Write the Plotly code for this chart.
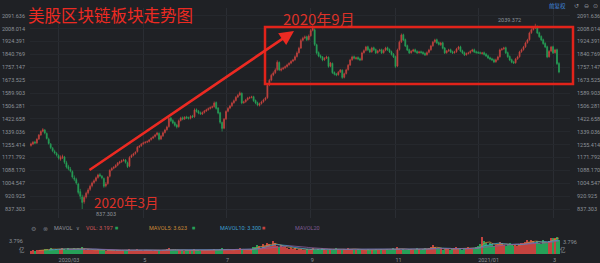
import plotly.graph_objects as go
import pandas as pd

# ---------------- data ----------------
start_date = "2020-02-10"
end_date = "2021-03-04"
holidays = ["2020-02-17", "2020-04-10", "2020-05-25", "2020-07-03", "2020-09-07",
            "2020-11-26", "2020-12-25", "2021-01-01", "2021-01-18", "2021-02-15"]

open_vals = [
    1250, 1259, 1272, 1266, 1292, 1318, 1342, 1350, 1328, 1290,
    1258, 1232, 1210, 1198, 1185, 1160, 1170, 1175, 1138, 1112,
    1095, 1080, 1040, 1028, 1000, 950, 915, 885, 915, 942,
    965, 988, 1010, 1022, 1042, 1060, 1050, 1035, 988, 1002,
    1050, 1090, 1102, 1110, 1122, 1136, 1144, 1152, 1156, 1138,
    1115, 1175, 1186, 1198, 1210, 1240, 1248, 1260, 1268, 1272,
    1276, 1288, 1298, 1308, 1320, 1328, 1292, 1312, 1334, 1352,
    1372, 1428, 1412, 1398, 1382, 1372, 1412, 1430, 1422, 1435,
    1430, 1426, 1440, 1436, 1482, 1472, 1462, 1454, 1464, 1474,
    1482, 1490, 1497, 1502, 1528, 1492, 1462, 1398, 1362, 1422,
    1472, 1492, 1507, 1527, 1542, 1564, 1577, 1588, 1527, 1534,
    1547, 1558, 1562, 1566, 1542, 1527, 1510, 1522, 1534, 1547,
    1560, 1642, 1674, 1707, 1722, 1742, 1788, 1738, 1747, 1754,
    1762, 1774, 1784, 1797, 1806, 1827, 1852, 1882, 1932, 1947,
    1955, 1937, 1962, 1997, 2000, 1903, 1852, 1832, 1824, 1806,
    1817, 1822, 1764, 1782, 1724, 1714, 1709, 1727, 1737, 1692,
    1717, 1742, 1772, 1806, 1826, 1813, 1820, 1812, 1806, 1852,
    1867, 1890, 1872, 1858, 1884, 1872, 1852, 1864, 1871, 1852,
    1868, 1884, 1872, 1858, 1842, 1826, 1765, 1872, 1922, 1968,
    1936, 1897, 1871, 1852, 1862, 1871, 1860, 1852, 1858, 1854,
    1847, 1839, 1854, 1871, 1897, 1922, 1936, 1917, 1903, 1916,
    1882, 1852, 1864, 1871, 1858, 1852, 1858, 1877, 1890, 1864,
    1852, 1839, 1847, 1852, 1862, 1871, 1858, 1854, 1852, 1846,
    1852, 1842, 1832, 1819, 1812, 1806, 1793, 1807, 1826, 1871,
    1877, 1884, 1852, 1827, 1806, 1792, 1787, 1812, 1826, 1858,
    1872, 1890, 1917, 1936, 1981, 2002, 2013, 2020, 1981, 1957,
    1936, 1912, 1890, 1826, 1862, 1890, 1852, 1871, 1782,
]
high_vals = [
    1268, 1278, 1280, 1296, 1324, 1348, 1362, 1356, 1334, 1300,
    1266, 1240, 1222, 1208, 1192, 1185, 1190, 1182, 1150, 1124,
    1110, 1088, 1055, 1040, 1008, 968, 930, 925, 950, 972,
    995, 1015, 1030, 1048, 1066, 1070, 1058, 1042, 1012, 1052,
    1095, 1108, 1115, 1128, 1142, 1150, 1158, 1163, 1162, 1145,
    1180, 1192, 1202, 1212, 1246, 1252, 1265, 1274, 1278, 1282,
    1292, 1303, 1313, 1325, 1338, 1335, 1318, 1340, 1358, 1378,
    1435, 1436, 1420, 1405, 1390, 1418, 1436, 1438, 1440, 1442,
    1437, 1446, 1448, 1490, 1490, 1480, 1470, 1470, 1480, 1488,
    1496, 1503, 1508, 1535, 1535, 1498, 1468, 1405, 1428, 1478,
    1498, 1513, 1533, 1548, 1570, 1584, 1600, 1594, 1540, 1552,
    1565, 1568, 1572, 1572, 1548, 1534, 1528, 1540, 1553, 1565,
    1650, 1682, 1715, 1730, 1750, 1802, 1795, 1755, 1760, 1768,
    1780, 1790, 1803, 1812, 1834, 1860, 1890, 1942, 1955, 1963,
    1962, 1970, 2005, 2030, 2010, 1910, 1860, 1840, 1830, 1822,
    1832, 1828, 1792, 1788, 1730, 1720, 1732, 1746, 1744, 1722,
    1748, 1778, 1812, 1832, 1833, 1826, 1828, 1820, 1858, 1873,
    1896, 1897, 1879, 1890, 1891, 1879, 1870, 1877, 1878, 1874,
    1890, 1891, 1879, 1865, 1849, 1832, 1878, 1930, 1976, 1975,
    1943, 1904, 1878, 1868, 1877, 1878, 1867, 1864, 1865, 1861,
    1854, 1860, 1877, 1903, 1928, 1942, 1943, 1924, 1922, 1923,
    1889, 1870, 1877, 1878, 1865, 1864, 1883, 1896, 1897, 1871,
    1859, 1853, 1858, 1868, 1877, 1878, 1865, 1861, 1859, 1857,
    1859, 1849, 1839, 1826, 1819, 1813, 1813, 1832, 1878, 1883,
    1890, 1891, 1859, 1834, 1813, 1799, 1818, 1832, 1864, 1878,
    1896, 1923, 1942, 1988, 2010, 2020, 2039.372, 2028, 1988, 1964,
    1943, 1919, 1897, 1868, 1896, 1897, 1877, 1878, 1790,
]
low_vals = [
    1242, 1252, 1258, 1260, 1285, 1312, 1335, 1322, 1288, 1255,
    1226, 1206, 1192, 1178, 1158, 1150, 1162, 1130, 1100, 1088,
    1075, 1035, 1018, 995, 932, 900, 837.303, 872, 905, 932,
    955, 978, 1000, 1014, 1034, 1044, 1030, 975, 978, 995,
    1042, 1083, 1095, 1103, 1115, 1128, 1137, 1145, 1132, 1103,
    1108, 1168, 1179, 1190, 1203, 1233, 1241, 1253, 1261, 1265,
    1269, 1281, 1291, 1301, 1313, 1282, 1285, 1305, 1327, 1345,
    1365, 1402, 1388, 1372, 1360, 1365, 1405, 1413, 1415, 1421,
    1418, 1419, 1427, 1429, 1463, 1452, 1448, 1447, 1457, 1467,
    1475, 1483, 1490, 1495, 1482, 1452, 1390, 1340, 1355, 1415,
    1465, 1485, 1500, 1520, 1535, 1557, 1570, 1517, 1520, 1527,
    1540, 1551, 1555, 1532, 1517, 1504, 1503, 1515, 1527, 1540,
    1552, 1634, 1666, 1699, 1714, 1734, 1732, 1730, 1740, 1747,
    1755, 1767, 1777, 1790, 1799, 1820, 1845, 1875, 1925, 1940,
    1927, 1930, 1955, 1990, 1895, 1840, 1822, 1814, 1796, 1799,
    1810, 1754, 1757, 1714, 1704, 1699, 1702, 1720, 1682, 1685,
    1710, 1735, 1765, 1799, 1808, 1806, 1803, 1797, 1799, 1845,
    1860, 1863, 1849, 1851, 1863, 1843, 1845, 1857, 1843, 1845,
    1861, 1863, 1849, 1833, 1817, 1752, 1758, 1865, 1915, 1927,
    1888, 1862, 1843, 1845, 1855, 1851, 1843, 1845, 1845, 1838,
    1830, 1832, 1847, 1864, 1890, 1915, 1908, 1898, 1896, 1873,
    1843, 1845, 1857, 1849, 1843, 1845, 1851, 1870, 1855, 1843,
    1830, 1832, 1840, 1845, 1855, 1849, 1845, 1843, 1841, 1839,
    1833, 1823, 1810, 1803, 1797, 1784, 1786, 1800, 1819, 1864,
    1870, 1843, 1818, 1797, 1783, 1778, 1780, 1805, 1819, 1851,
    1865, 1883, 1910, 1929, 1974, 1995, 2006, 1972, 1948, 1927,
    1903, 1881, 1816, 1819, 1855, 1843, 1845, 1772, 1718,
]
close_vals = [
    1259, 1270, 1265, 1290, 1317, 1340, 1352, 1330, 1295, 1262,
    1235, 1215, 1201, 1188, 1168, 1172, 1178, 1140, 1110, 1098,
    1085, 1045, 1030, 1006, 945, 920, 880, 912, 940, 961,
    985, 1006, 1020, 1040, 1058, 1052, 1040, 985, 1000, 1045,
    1088, 1100, 1108, 1120, 1135, 1142, 1150, 1155, 1140, 1112,
    1172, 1185, 1195, 1205, 1238, 1245, 1258, 1266, 1270, 1274,
    1285, 1296, 1305, 1318, 1330, 1290, 1310, 1332, 1350, 1369,
    1425, 1410, 1395, 1380, 1369, 1410, 1428, 1420, 1432, 1428,
    1425, 1438, 1434, 1480, 1470, 1460, 1455, 1462, 1472, 1480,
    1488, 1495, 1500, 1525, 1490, 1460, 1400, 1360, 1420, 1470,
    1490, 1505, 1525, 1540, 1562, 1575, 1590, 1525, 1532, 1545,
    1557, 1560, 1564, 1540, 1525, 1512, 1520, 1532, 1545, 1557,
    1640, 1672, 1705, 1720, 1739, 1790, 1740, 1745, 1752, 1760,
    1772, 1782, 1795, 1804, 1825, 1850, 1880, 1930, 1945, 1953,
    1935, 1960, 1995, 2010, 1905, 1850, 1830, 1822, 1804, 1815,
    1824, 1762, 1785, 1722, 1712, 1707, 1725, 1739, 1690, 1715,
    1740, 1770, 1804, 1824, 1815, 1818, 1810, 1804, 1850, 1865,
    1888, 1870, 1856, 1882, 1870, 1850, 1862, 1869, 1850, 1866,
    1882, 1870, 1856, 1840, 1824, 1762, 1869, 1920, 1966, 1934,
    1895, 1869, 1850, 1860, 1869, 1858, 1850, 1856, 1852, 1845,
    1837, 1852, 1869, 1895, 1920, 1934, 1915, 1905, 1914, 1880,
    1850, 1862, 1869, 1856, 1850, 1856, 1875, 1888, 1862, 1850,
    1837, 1845, 1850, 1860, 1869, 1856, 1852, 1850, 1848, 1850,
    1840, 1830, 1817, 1810, 1804, 1791, 1805, 1824, 1869, 1875,
    1882, 1850, 1825, 1804, 1790, 1785, 1810, 1824, 1856, 1870,
    1888, 1915, 1934, 1979, 2000, 2011, 2018, 1979, 1955, 1934,
    1910, 1888, 1824, 1860, 1888, 1850, 1869, 1780, 1726,
]
volume_vals = [  # 亿
    0.7, 0.8, 0.6, 0.9, 1.0, 0.8, 0.9, 1.1, 1.2, 1.0,
    1.3, 1.2, 0.9, 1.1, 1.0, 1.2, 1.3, 1.1, 1.0, 1.4,
    1.2, 1.1, 1.3, 1.2, 1.4, 1.1, 1.5, 1.2, 1.0, 1.1,
    0.9, 1.0, 0.8, 0.9, 1.1, 0.8, 0.9, 1.0, 0.7, 0.8,
    1.0, 0.9, 0.8, 0.7, 0.9, 0.8, 1.0, 0.9, 0.7, 0.8,
    1.1, 0.9, 0.8, 1.0, 1.2, 0.9, 0.8, 0.7, 0.9, 1.0,
    0.8, 0.9, 0.7, 1.0, 0.9, 0.8, 0.7, 0.9, 1.0, 1.1,
    1.3, 0.9, 0.8, 1.0, 0.9, 0.8, 1.0, 0.9, 0.7, 0.8,
    0.9, 1.0, 0.8, 1.2, 0.9, 0.8, 0.7, 0.8, 0.9, 1.0,
    0.9, 0.8, 1.0, 1.2, 0.9, 1.0, 1.1, 1.4, 1.0, 0.9,
    0.8, 1.0, 0.9, 1.1, 1.2, 1.0, 1.3, 0.9, 0.8, 1.0,
    0.9, 1.0, 1.1, 1.6, 1.5, 2.1, 1.8, 1.4, 2.3, 1.9,
    2.6, 2.2, 1.9, 2.9, 2.4, 1.8, 1.6, 2.0, 1.7, 1.5,
    1.3, 1.2, 1.4, 1.1, 1.3, 1.0, 1.1, 1.2, 1.0, 0.9,
    1.1, 1.0, 1.2, 1.3, 1.0, 0.9, 1.1, 1.0, 1.3, 1.2,
    1.0, 0.9, 1.1, 1.0, 1.2, 1.3, 1.1, 1.0, 0.9, 1.1,
    1.0, 1.4, 1.1, 1.2, 1.0, 0.9, 1.1, 1.0, 0.9, 1.0,
    0.8, 1.1, 1.0, 0.9, 1.0, 1.2, 0.9, 1.0, 1.1, 0.9,
    1.0, 1.1, 0.9, 1.0, 1.3, 1.1, 1.5, 1.2, 1.0, 1.1,
    0.9, 1.0, 1.1, 1.2, 1.0, 0.9, 1.3, 1.1, 1.0, 1.2,
    1.4, 1.1, 1.3, 1.6, 2.0, 1.5, 1.2, 1.1, 1.3, 1.0,
    1.1, 1.4, 1.2, 1.0, 1.1, 1.3, 1.5, 1.2, 1.1, 1.0,
    1.2, 1.4, 1.6, 1.3, 1.1, 1.2, 1.5, 1.8, 2.2, 3.796,
    2.9, 2.4, 2.0, 2.6, 2.2, 1.9, 2.1, 2.3, 2.8, 2.5,
    2.0, 1.8, 2.2, 2.4, 2.0, 1.9, 2.1, 1.8, 2.3, 2.6,
    2.4, 2.8, 3.1, 2.7, 3.3, 2.9, 2.6, 3.0, 2.4, 2.2,
    3.2, 2.8, 2.6, 3.0, 3.6, 3.75, 3.7, 3.77, 3.197,
]

price_tick_text = ["837.303", "920.925", "1004.547", "1088.170", "1171.792", "1255.414",
                   "1339.036", "1422.658", "1506.281", "1589.903", "1673.525", "1757.147",
                   "1840.769", "1924.391", "2008.014", "2091.636"]
month_keys = ["2020-03", "2020-05", "2020-07", "2020-09", "2020-11", "2021-01", "2021-03"]
month_labels = ["2020/03", "5", "7", "9", "11", "2021/01", "3"]

title_text = "美股区块链板块走势图"
note_sep = "2020年9月"
note_mar = "2020年3月"
max_label = "2039.372"
min_label = "837.303"
vol_max_label = "3.796"
vol_unit = "亿"

# ---------------- derived ----------------
dates = [d for d in pd.bdate_range(start_date, end_date) if d.strftime("%Y-%m-%d") not in holidays]
n = min(len(dates), len(open_vals), len(high_vals), len(low_vals), len(close_vals), len(volume_vals))
idx = list(range(n))
month_idx = []
for key in month_keys:
    for i in idx:
        if dates[i].strftime("%Y-%m") == key:
            month_idx.append(i)
            break

vol_series = pd.Series(volume_vals[:n])
ma5 = vol_series.rolling(5).mean()
ma10 = vol_series.rolling(10).mean()
ma20 = vol_series.rolling(20).mean()

UP = "#c4433f"
DOWN = "#26a058"
BG = "#1f2125"
GRID = "#2a2d33"
AXIS = "#8d9299"
RED = "#ec2a22"
W, H = 600, 263
ML, MR = 30, 30
PW = W - ML - MR

def px(xp):
    return (xp - ML) / PW

def py(yp):
    return 1 - yp / H

vol_colors = [UP if close_vals[i] >= open_vals[i] else DOWN for i in idx]

fig = go.Figure()
fig.add_trace(go.Candlestick(
    x=idx, open=open_vals[:n], high=high_vals[:n], low=low_vals[:n], close=close_vals[:n],
    increasing=dict(line=dict(color=UP, width=0.7), fillcolor=UP),
    decreasing=dict(line=dict(color=DOWN, width=0.7), fillcolor=DOWN),
    whiskerwidth=0, showlegend=False, hoverinfo="none", xaxis="x", yaxis="y"))
fig.add_trace(go.Scatter(x=idx, y=close_vals[:n], mode="lines", line=dict(width=0),
                         opacity=0, hoverinfo="skip", showlegend=False, xaxis="x", yaxis="y3"))
fig.add_trace(go.Bar(x=idx, y=volume_vals[:n], marker=dict(color=vol_colors, line=dict(width=0)),
                     width=0.7, showlegend=False, hoverinfo="skip", xaxis="x2", yaxis="y2"))
for ma, col in [(ma5, "#c98a37"), (ma10, "#3d9fcf"), (ma20, "#8a5c9c")]:
    fig.add_trace(go.Scatter(x=idx, y=ma, mode="lines", line=dict(color=col, width=0.8),
                             showlegend=False, hoverinfo="skip", xaxis="x2", yaxis="y2"))

price_ticks = [float(t) for t in price_tick_text]
yr = [778.9, 2141.6]
tickfont = dict(size=5.5, color=AXIS, family="Roboto, Arial")

fig.update_layout(
    width=W, height=H, margin=dict(l=ML, r=MR, t=0, b=0),
    paper_bgcolor=BG, plot_bgcolor=BG, showlegend=False, hovermode=False,
    bargap=0,
    xaxis=dict(domain=[0, 1], range=[-0.5, 273.6], anchor="y", showticklabels=False,
               tickvals=month_idx, showgrid=True, gridcolor=GRID, gridwidth=1,
               zeroline=False, rangeslider=dict(visible=False), ticks=""),
    yaxis=dict(domain=[py(218), py(8)], range=yr, anchor="x", side="left",
               tickvals=price_ticks, ticktext=price_tick_text, tickfont=tickfont,
               showgrid=True, gridcolor="#25282d", zeroline=False, ticks="",
               ticklabelstandoff=4),
    yaxis3=dict(overlaying="y", range=yr, anchor="x", side="right",
                tickvals=price_ticks, ticktext=price_tick_text, tickfont=tickfont,
                showgrid=False, zeroline=False, ticks="", ticklabelstandoff=6),
    xaxis2=dict(domain=[0, 1], range=[-0.5, 273.6], anchor="y2",
                tickvals=month_idx, ticktext=month_labels, tickfont=tickfont,
                ticklabelposition="outside right", showgrid=False, zeroline=False,
                ticks="", ticklabelstandoff=1),
    yaxis2=dict(domain=[py(254), py(236)], range=[0, 4.1], anchor="x2",
                showticklabels=False, showgrid=False, zeroline=False),
)

CJK = "Noto Sans CJK SC"
ann = []

def add_text(text, xp, yp, size, color, xanchor="center", family=CJK):
    ann.append(dict(text=text, x=px(xp), y=py(yp), xref="paper", yref="paper",
                    xanchor=xanchor, yanchor="middle", showarrow=False,
                    font=dict(size=size, color=color, family=family)))

add_text(title_text, 110, 15, 16.5, RED)
add_text(note_sep, 319, 19, 15, "#dc3128")
add_text(note_mar, 126, 202, 13.5, "#dc3128")
add_text(max_label, 509, 20, 5.5, AXIS, family="Roboto, Arial")
add_text(min_label, 106, 214, 5.5, AXIS, family="Roboto, Arial")
add_text("前复权", 557, 6, 5.5, "#3f86dd")
add_text("↺", 576, 6, 6, AXIS, family="DejaVu Sans")
add_text("⊖", 586, 6, 6, AXIS, family="DejaVu Sans")
add_text("⊙", 595, 6, 6, AXIS, family="DejaVu Sans")
# indicator row
add_text("⚙", 33, 228, 6, "#6f747b", family="DejaVu Sans")
add_text("⊗", 45, 228, 6, "#6f747b", family="DejaVu Sans")
add_text("MAVOL", 52, 228, 5.5, AXIS, xanchor="left", family="Roboto, Arial")
add_text("∨", 78, 228, 5, AXIS, family="DejaVu Sans")
add_text("VOL: 3.197", 84, 228, 5.5, "#d25a5a", xanchor="left", family="Roboto, Arial")
add_text("■", 116, 228, 3.5, DOWN, family="DejaVu Sans")
add_text("MAVOL5: 3.623", 147, 228, 5.5, "#c98a37", xanchor="left", family="Roboto, Arial")
add_text("■", 193, 228, 3.5, DOWN, family="DejaVu Sans")
add_text("MAVOL10: 3.300", 218, 228, 5.5, "#3d9fcf", xanchor="left", family="Roboto, Arial")
add_text("■", 263, 228, 3.5, UP, family="DejaVu Sans")
add_text("MAVOL20", 293, 228, 5.5, "#7d5a92", xanchor="left", family="Roboto, Arial")
# volume axis labels
add_text(vol_max_label, 25, 241, 5.5, AXIS, xanchor="right", family="Roboto, Arial")
add_text(vol_unit, 22, 250, 5.5, AXIS)
add_text(vol_max_label, 561, 242, 5.5, AXIS, xanchor="left", family="Roboto, Arial")
add_text(vol_unit, 563, 250, 5.5, AXIS)

# arrow
ann.append(dict(x=px(294), y=py(31), xref="paper", yref="paper", text="",
                showarrow=True, ax=88 - 294, ay=171 - 31, axref="pixel", ayref="pixel",
                arrowcolor=RED, arrowwidth=2.6, arrowhead=2, arrowsize=1.1, standoff=0))
fig.update_layout(annotations=ann)

fig.add_shape(type="rect", xref="paper", yref="paper",
              x0=px(265), x1=px(573), y0=py(84), y1=py(27),
              line=dict(color="#e2231a", width=2.5), fillcolor="rgba(0,0,0,0)")

fig.write_html("out.html")
